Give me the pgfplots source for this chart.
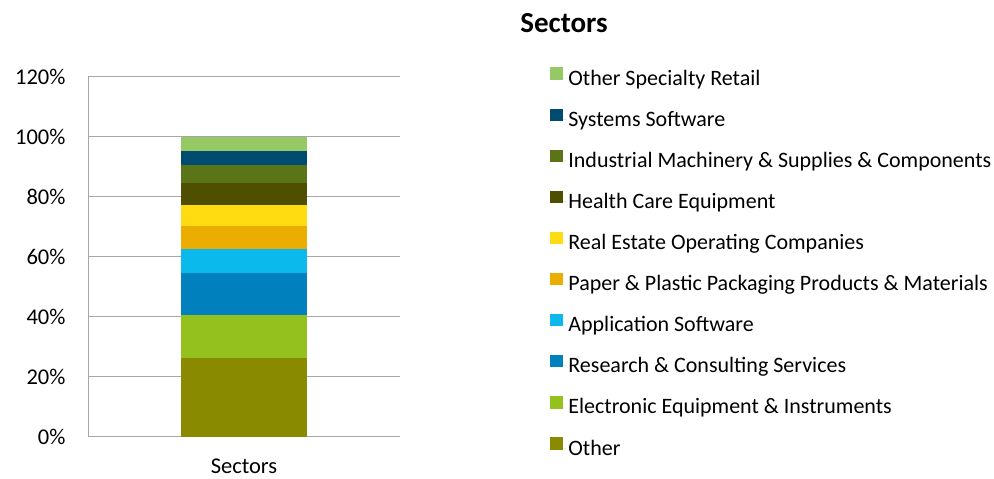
\documentclass[border=0pt]{standalone}
\usepackage{pgfplots}
\pgfplotsset{compat=1.18}
\usepackage{fontspec}
\setmainfont{Carlito}
\definecolor{cOther}{HTML}{8A8A00}
\definecolor{cElec}{HTML}{95C11F}
\definecolor{cRes}{HTML}{0080BC}
\definecolor{cApp}{HTML}{0CB9ED}
\definecolor{cPaper}{HTML}{EAAD00}
\definecolor{cReal}{HTML}{FFDC12}
\definecolor{cHealth}{HTML}{4F4F00}
\definecolor{cInd}{HTML}{5A7417}
\definecolor{cSys}{HTML}{004B70}
\definecolor{cOSR}{HTML}{96C864}
\definecolor{gridc}{HTML}{A6A6A6}
\begin{document}
\begin{tikzpicture}[x=1pt,y=1pt]
\useasboundingbox (0,0) rectangle (994,479);
\node[font=\fontsize{29}{33}\selectfont\bfseries] at (564,456) {Sectors};
\begin{axis}[
  at={(88pt,42pt)}, anchor=south west,
  scale only axis, width=312pt, height=360pt,
  ybar stacked, bar width=125pt,
  xmin=-0.5, xmax=0.5,
  ymin=0, ymax=120,
  ytick={0,20,40,60,80,100,120},
  yticklabel={\pgfmathprintnumber{\tick}\%},
  xtick={0}, xticklabels={Sectors},
  /pgf/number format/assume math mode=true,
  tick label style={font=\fontsize{22.5}{26}\selectfont},
  yticklabel style={xshift=-19pt},
  xticklabel style={yshift=-18pt},
  major tick length=0pt,
  ymajorgrids, grid style={gridc, line width=1pt},
  axis x line*=bottom, axis y line*=left,
  axis line style={gridc, line width=1pt, -},
  reverse legend,
  legend style={at={(rel axis cs:1.4814,1.027)}, anchor=north west, draw=none, fill=none,
    font=\fontsize{22}{26}\selectfont, row sep=19.7pt, inner sep=0pt,
    /tikz/every even column/.append style={column sep=0pt}},
  legend cell align=left,
  legend image code/.code={\fill[#1,draw=none] (0pt,-1.5pt) rectangle (12.5pt,11pt); \path (0pt,0pt) -- (16pt,0pt);},
]
\addplot[fill=cOther, draw=none] coordinates {(0,26.3)};
\addplot[fill=cElec, draw=none] coordinates {(0,14.3)};
\addplot[fill=cRes, draw=none] coordinates {(0,14.0)};
\addplot[fill=cApp, draw=none] coordinates {(0,8.0)};
\addplot[fill=cPaper, draw=none] coordinates {(0,7.6)};
\addplot[fill=cReal, draw=none] coordinates {(0,7.0)};
\addplot[fill=cHealth, draw=none] coordinates {(0,7.3)};
\addplot[fill=cInd, draw=none] coordinates {(0,6.0)};
\addplot[fill=cSys, draw=none] coordinates {(0,4.7)};
\addplot[fill=cOSR, draw=none] coordinates {(0,4.8)};
\legend{Other, Electronic Equipment \& Instruments, Research \& Consulting Services, Application Software, Paper \& Plastic Packaging Products \& Materials, Real Estate Operating Companies, Health Care Equipment, Industrial Machinery \& Supplies \& Components, Systems Software, Other Specialty Retail}
\end{axis}
\end{tikzpicture}
\end{document}
